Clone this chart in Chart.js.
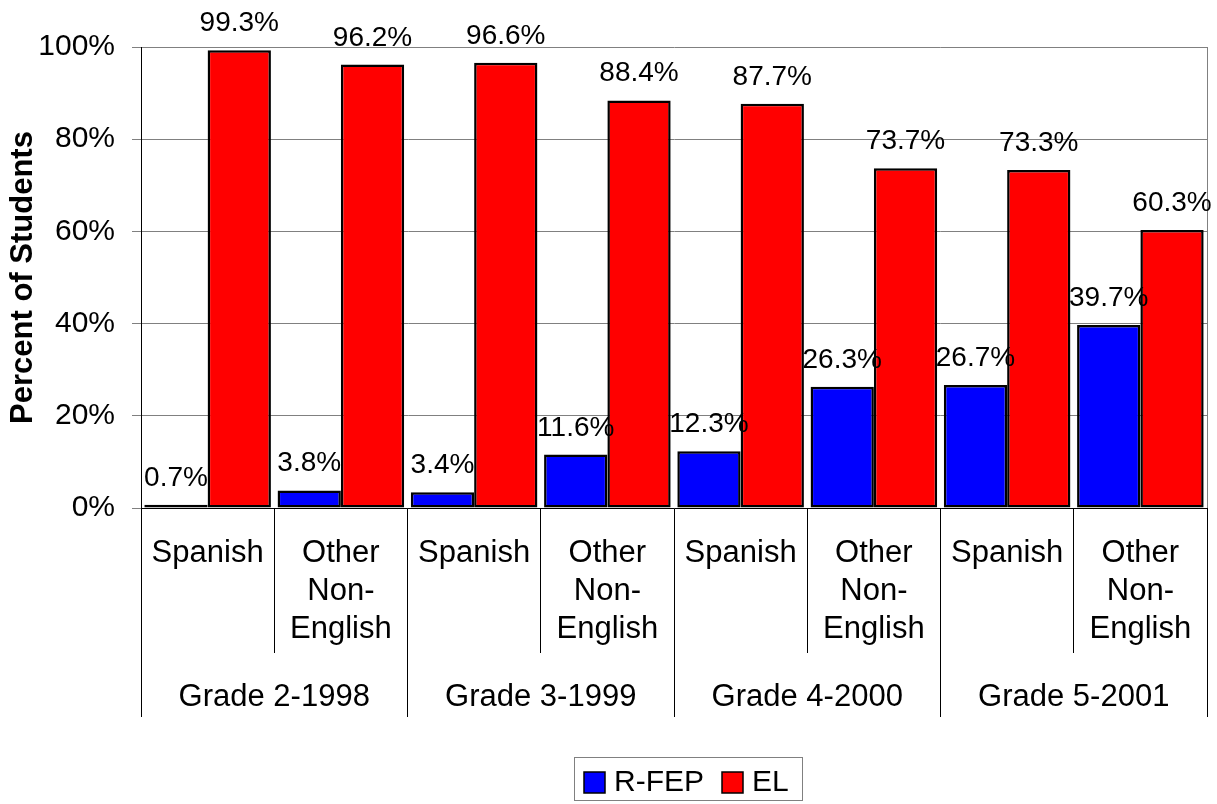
<!DOCTYPE html>
<html>
<head>
<meta charset="utf-8">
<script src="https://cdn.jsdelivr.net/npm/chart.js@4/dist/chart.umd.min.js"></script>
<style>
  body { margin: 0; background: #fff; }
  #wrap { width: 1217px; height: 804px; position: relative; }
</style>
</head>
<body>
<div id="wrap"><canvas id="grafico"></canvas></div>
<script>
const grades = ['Grade 2-1998', 'Grade 3-1999', 'Grade 4-2000', 'Grade 5-2001'];
const languages = [['Spanish'], ['Other', 'Non-', 'English']];
const rfep = [0.7, 3.8, 3.4, 11.6, 12.3, 26.3, 26.7, 39.7];
const el = [99.3, 96.2, 96.6, 88.4, 87.7, 73.7, 73.3, 60.3];
const yMax = 100;
const yStep = 20;

const categories = grades.flatMap(() => languages);

Chart.defaults.font.family = '"Liberation Sans", Arial, sans-serif';
Chart.defaults.color = '#000';

// value labels above each bar
const barLabels = {
  id: 'barLabels',
  afterDatasetsDraw(chart) {
    const ctx = chart.ctx;
    ctx.save();
    ctx.font = '28px "Liberation Sans", Arial, sans-serif';
    ctx.fillStyle = '#000';
    ctx.textAlign = 'center';
    ctx.textBaseline = 'alphabetic';
    chart.data.datasets.forEach((ds, i) => {
      chart.getDatasetMeta(i).data.forEach((bar, j) => {
        ctx.fillText(ds.data[j].toFixed(1) + '%', bar.x, bar.y - 19);
      });
    });
    ctx.restore();
  }
};

// plot area right edge + boxed legend
const frame = {
  id: 'frame',
  beforeDatasetsDraw(chart) {
    const a = chart.chartArea;
    const ctx = chart.ctx;
    ctx.save();
    ctx.strokeStyle = '#808080';
    ctx.lineWidth = 1;
    ctx.beginPath();
    ctx.moveTo(Math.round(a.right) + 0.5, a.top);
    ctx.lineTo(Math.round(a.right) + 0.5, a.bottom);
    ctx.stroke();
    ctx.restore();
  },
  afterDraw(chart) {
    const ctx = chart.ctx;
    ctx.save();
    ctx.font = '30px "Liberation Sans", Arial, sans-serif';
    const box = 21, gap = 9, itemGap = 18, padL = 10, padR = 13;
    const items = chart.data.datasets.map(ds => ({
      text: ds.label, color: ds.backgroundColor, w: ctx.measureText(ds.label).width
    }));
    let total = padL + padR - itemGap;
    items.forEach(it => { total += box + gap + it.w + itemGap; });
    const left = 574, top = 757, h = 43;
    ctx.strokeStyle = '#808080';
    ctx.lineWidth = 1;
    ctx.strokeRect(left + 0.5, top + 0.5, Math.round(total), h);
    let x = left + padL;
    const cy = top + h / 2 + 4;
    ctx.textBaseline = 'middle';
    items.forEach(it => {
      ctx.fillStyle = it.color;
      ctx.fillRect(x, cy - box / 2, box, box);
      ctx.strokeStyle = '#000';
      ctx.lineWidth = 1.5;
      ctx.strokeRect(x, cy - box / 2, box, box);
      ctx.fillStyle = '#000';
      ctx.fillText(it.text, x + box + gap, cy);
      x += box + gap + it.w + itemGap;
    });
    ctx.restore();
  }
};

new Chart(document.getElementById('grafico'), {
  type: 'bar',
  data: {
    labels: categories,
    datasets: [{
      label: 'R-FEP',
      data: rfep,
      backgroundColor: '#0000FF',
      borderColor: '#000',
      borderWidth: 2.5,
      borderSkipped: false
    }, {
      label: 'EL',
      data: el,
      backgroundColor: '#FF0000',
      borderColor: '#000',
      borderWidth: 2.5,
      borderSkipped: false
    }]
  },
  options: {
    responsive: true,
    maintainAspectRatio: false,
    animation: false,
    categoryPercentage: 0.95,
    barPercentage: 1.0,
    layout: { padding: { top: 47, right: 10, bottom: 87, left: 0 } },
    plugins: {
      legend: { display: false },
      tooltip: { enabled: false }
    },
    scales: {
      y: {
        min: 0,
        max: yMax,
        ticks: {
          stepSize: yStep,
          padding: 17,
          font: { size: 30 },
          callback: v => v + '%'
        },
        grid: { color: '#808080', tickColor: '#808080', tickLength: 9 },
        border: { color: '#000', width: 1 },
        title: {
          display: true,
          text: 'Percent of Students',
          font: { size: 31, weight: 'bold', lineHeight: 1.2 },
          padding: { top: 5, bottom: 0 }
        },
        afterFit: s => { s.width = 141; }
      },
      x: {
        weight: 0,
        offset: true,
        grid: { offset: true, drawOnChartArea: false, color: '#000', tickLength: 145 },
        border: { color: '#000', width: 1 },
        ticks: {
          autoSkip: false,
          maxRotation: 0,
          minRotation: 0,
          padding: -119,
          font: { size: 31, lineHeight: '38px' }
        },
        afterFit: s => { s.height = 145; }
      },
      x2: {
        type: 'category',
        position: 'bottom',
        weight: 1,
        labels: grades,
        offset: true,
        grid: { offset: true, drawOnChartArea: false, color: '#000', tickLength: 64 },
        border: { display: false },
        ticks: {
          autoSkip: false,
          maxRotation: 0,
          minRotation: 0,
          padding: -39,
          font: { size: 31, lineHeight: '38px' }
        },
        afterFit: s => { s.height = 64; }
      }
    }
  },
  plugins: [barLabels, frame]
});
</script>
</body>
</html>
